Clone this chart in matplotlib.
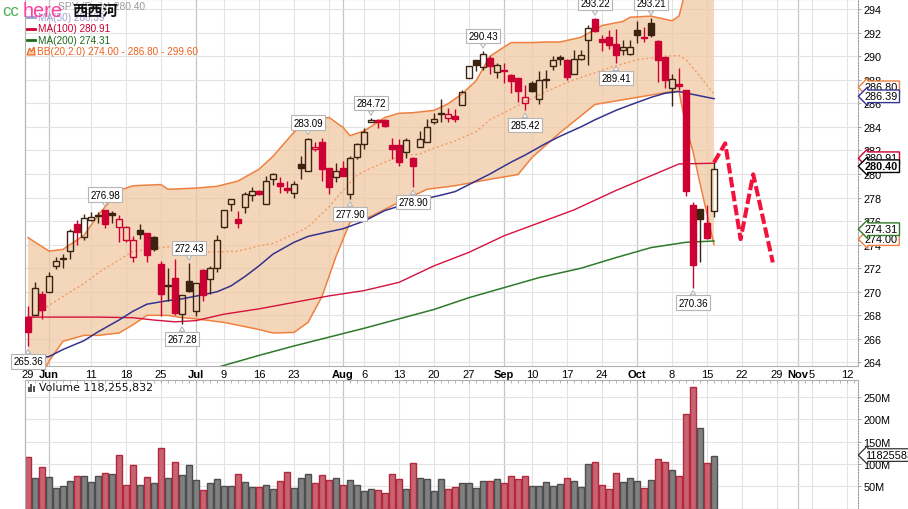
import numpy as np
import pandas as pd
import matplotlib
matplotlib.use("Agg")
import matplotlib.pyplot as plt
import matplotlib.transforms as mtransforms
from matplotlib.patches import Rectangle, Polygon
from matplotlib.lines import Line2D

W, H = 908, 510

# ------------------------------------------------------------------ data
holidays = ["2018-07-04", "2018-09-03"]
sessions = pd.bdate_range("2018-05-29", "2018-11-16")
sessions = sessions[~sessions.isin(pd.to_datetime(holidays))]

prev_close = 269.00
opens = [267.88, 268.05, 269.81, 270.00, 272.20, 272.85, 273.47, 275.74, 274.61, 276.10,
         276.55, 276.92, 276.70, 275.54, 274.41, 272.91, 275.22, 274.97, 274.61, 272.35,
         270.60, 271.13, 268.11, 270.93, 268.33, 271.84, 271.07, 272.06, 275.54, 277.43,
         276.16, 277.20, 278.19, 278.56, 277.43, 279.55, 279.27, 278.82, 278.42, 280.82,
         280.25, 282.15, 282.72, 280.48, 279.78, 280.54, 278.33, 281.47, 282.57, 284.43,
         284.57, 284.60, 282.43, 282.43, 281.87, 281.33, 282.32, 282.71, 284.40, 285.20,
         284.77, 284.91, 285.86, 288.16, 289.64, 289.12, 289.83, 288.69, 288.80, 288.40,
         288.12, 285.99, 287.70, 286.33, 288.00, 289.17, 289.89, 289.68, 288.46, 289.77,
         291.39, 293.17, 291.47, 291.59, 291.02, 290.53, 290.15, 292.21, 291.65, 292.81,
         291.30, 289.89, 287.27, 287.60, 287.13, 277.39, 276.99, 275.86, 276.85]
highs = [268.81, 270.80, 270.09, 271.64, 272.91, 273.17, 275.31, 276.10, 276.58, 276.78,
         276.78, 276.98, 276.86, 276.50, 275.60, 274.75, 275.74, 275.00, 274.75, 272.63,
         272.06, 272.77, 269.75, 272.43, 270.71, 271.92, 272.15, 274.81, 276.92, 277.91,
         276.86, 278.50, 278.90, 278.62, 279.83, 280.10, 279.70, 279.40, 279.40, 281.54,
         283.09, 282.70, 283.08, 280.50, 280.96, 281.10, 281.54, 282.66, 283.93, 284.72,
         284.70, 284.66, 283.02, 282.94, 283.05, 281.47, 283.65, 284.63, 285.20, 286.33,
         285.60, 285.50, 287.10, 289.20, 289.70, 290.43, 289.97, 289.40, 289.40, 288.45,
         288.12, 287.55, 287.89, 288.74, 288.83, 289.97, 290.06, 289.75, 290.53, 290.53,
         292.66, 293.22, 291.81, 292.24, 292.32, 291.39, 291.39, 293.00, 292.44, 293.21,
         291.35, 289.90, 288.46, 288.97, 287.13, 277.60, 277.00, 277.33, 281.00]
lows = [265.36, 268.05, 267.69, 270.00, 271.92, 272.06, 272.77, 273.96, 274.41, 276.01,
        275.82, 275.45, 275.80, 274.25, 274.19, 272.49, 274.47, 272.55, 273.47, 267.97,
        269.24, 268.05, 267.28, 269.95, 267.97, 269.24, 269.81, 271.64, 275.45, 276.86,
        275.42, 276.70, 277.71, 278.20, 277.43, 279.04, 278.42, 278.42, 278.00, 279.55,
        280.25, 281.95, 279.41, 278.33, 279.33, 279.80, 277.90, 281.30, 282.15, 284.43,
        283.93, 284.00, 281.24, 280.68, 281.36, 278.90, 282.32, 282.71, 284.20, 284.40,
        284.40, 284.40, 285.86, 288.16, 288.72, 288.83, 288.46, 288.12, 287.70, 286.84,
        286.08, 285.42, 286.99, 285.91, 287.27, 288.83, 289.26, 287.98, 288.46, 289.68,
        289.26, 292.05, 290.45, 290.62, 289.41, 290.11, 290.11, 291.08, 291.19, 291.59,
        287.84, 287.27, 285.80, 287.13, 278.13, 270.36, 272.51, 274.50, 276.34]
closes = [266.56, 270.29, 268.47, 271.30, 272.57, 272.80, 275.17, 275.08, 276.30, 276.35,
          276.45, 275.74, 276.50, 276.16, 275.54, 274.41, 274.94, 273.11, 273.62, 269.81,
          270.45, 268.20, 269.75, 270.09, 270.71, 269.72, 272.00, 274.38, 276.92, 277.91,
          275.82, 278.30, 278.56, 278.33, 279.41, 280.03, 278.99, 278.68, 279.18, 280.51,
          282.94, 282.32, 280.39, 278.93, 280.25, 279.83, 281.39, 282.57, 283.59, 284.60,
          284.45, 284.09, 282.15, 281.02, 282.86, 280.68, 283.00, 284.01, 284.63, 285.12,
          285.06, 284.69, 286.99, 289.14, 289.28, 290.20, 289.20, 289.25, 288.70, 287.89,
          287.04, 286.56, 287.04, 287.98, 288.10, 289.68, 289.72, 288.27, 289.77, 290.06,
          292.38, 292.10, 291.16, 290.96, 290.06, 290.74, 290.78, 291.81, 291.58, 291.81,
          289.68, 287.98, 288.04, 287.50, 278.52, 272.31, 276.14, 274.58, 280.40]
volume_m = [114.8, 67.7, 92.4, 70.0, 45.3, 49.8, 61.0, 72.2, 72.2, 58.7,
            72.2, 78.9, 76.7, 119.3, 52.0, 96.9, 52.0, 70.0, 56.5, 135.0,
            67.7, 103.6, 74.4, 96.9, 63.2, 40.8, 56.5, 65.5, 49.8, 49.8,
            76.7, 58.7, 47.5, 47.5, 52.0, 43.0, 61.0, 81.2, 45.3, 67.7,
            76.7, 56.5, 74.4, 63.2, 67.7, 52.0, 63.2, 52.0, 38.6, 43.0,
            40.8, 34.1, 76.7, 65.5, 43.0, 101.3, 67.7, 65.5, 38.6, 65.5,
            43.0, 47.5, 56.5, 56.5, 45.3, 61.0, 61.0, 65.5, 56.5, 72.2,
            65.5, 72.2, 49.8, 49.8, 58.7, 49.8, 54.2, 67.7, 61.0, 47.5,
            99.1, 103.6, 52.0, 43.0, 78.9, 58.7, 67.7, 61.0, 45.3, 63.2,
            110.3, 103.6, 85.6, 72.2, 211.2, 271.7, 179.8, 101.3, 118.26]

# overlay readings (session index, value)
ma50_idx = [0, 3, 5, 8, 10, 13, 15, 17, 20, 22, 25, 27, 29, 31, 33, 35, 38, 40, 43, 45, 48,
            51, 54, 56, 59, 61, 63, 66, 69, 71, 74, 76, 79, 81, 84, 86, 89, 91, 93, 95, 98]
ma50 = [264.3, 264.5, 265.1, 265.85, 266.6, 267.6, 268.35, 268.95, 269.25, 269.4, 269.75,
        270.0, 270.5, 271.3, 272.2, 273.2, 274.2, 274.7, 275.1, 275.35, 276.0, 276.9, 277.45,
        277.8, 278.2, 278.5, 279.1, 280.0, 281.0, 281.6, 282.6, 283.2, 284.0, 284.6, 285.4,
        285.85, 286.5, 286.85, 287.0, 286.75, 286.39]
ma100_idx = [0, 5, 10, 15, 18, 21, 24, 28, 33, 38, 43, 48, 53, 58, 63, 68, 73, 78, 84, 89, 93, 98]
ma100 = [267.85, 267.85, 267.85, 267.8, 267.6, 267.45, 267.55, 268.1, 268.55, 269.1, 269.65,
         270.1, 270.8, 272.2, 273.35, 274.75, 275.85, 276.95, 278.6, 279.85, 280.85, 280.91]
ma200_idx = [24, 28, 33, 38, 43, 48, 53, 58, 63, 68, 73, 79, 84, 89, 94, 98]
ma200 = [263.05, 263.75, 264.6, 265.4, 266.15, 266.9, 267.7, 268.5, 269.5, 270.35, 271.2,
         272.0, 272.9, 273.75, 274.2, 274.31]
bb_up_idx = [0, 3, 5, 8, 10, 13, 15, 19, 20, 24, 27, 30, 33, 35, 38, 40, 43, 45, 46, 48, 51, 53,
             55, 58, 60, 62, 64, 66, 69, 72, 74, 76, 79, 82, 85, 86, 89, 92, 93, 94, 95, 96, 97, 98]
bb_up = [274.6, 273.45, 273.6, 274.8, 276.5, 278.6, 279.0, 279.1, 278.7, 278.8, 278.95, 279.4,
         280.4, 281.5, 283.55, 284.45, 284.8, 283.95, 283.25, 283.65, 284.8, 285.15, 285.2,
         285.4, 285.95, 286.8, 287.9, 290.0, 291.15, 291.15, 291.2, 291.2, 291.6, 292.6, 292.95,
         293.3, 293.4, 293.0, 293.4, 295.7, 296.1, 297.4, 298.4, 299.6]
bb_mid_idx = [0, 3, 5, 8, 10, 13, 15, 17, 20, 22, 25, 28, 30, 33, 35, 38, 40, 43, 45, 47, 49,
              51, 53, 56, 58, 61, 64, 66, 69, 72, 74, 78, 83, 87, 91, 93, 94, 95, 96, 97, 98]
bb_mid = [267.55, 268.85, 269.6, 270.7, 271.6, 272.7, 273.45, 273.6, 273.8, 273.6, 273.35,
          273.4, 273.45, 273.9, 274.1, 274.9, 275.5, 277.2, 278.6, 279.9, 280.5, 281.0, 281.5,
          281.7, 282.2, 282.8, 283.6, 284.6, 285.5, 286.4, 287.0, 288.0, 289.0, 289.7, 290.0,
          290.05, 289.7, 289.0, 288.3, 287.5, 286.8]
bb_lo_idx = [0, 3, 5, 8, 10, 13, 15, 17, 20, 22, 24, 28, 33, 35, 38, 40, 42, 44, 46, 49, 52,
             57, 61, 66, 70, 72, 76, 81, 86, 89, 92, 93, 94, 95, 96, 97, 98]
bb_lo = [260.5, 264.1, 265.8, 266.3, 266.3, 266.5, 267.2, 268.0, 268.0, 267.8, 267.7, 267.4,
         266.8, 266.5, 266.55, 267.4, 269.6, 273.0, 275.9, 276.4, 277.3, 278.7, 279.0, 279.55,
         279.95, 281.4, 283.5, 285.9, 286.4, 286.7, 287.0, 287.0, 284.0, 281.9, 279.2, 276.6,
         274.0]

# hand-drawn forecast zigzag (session position, price)
proj_x = [98.0, 99.6, 101.8, 103.6, 106.4]
proj_y = [280.97, 282.60, 274.47, 279.97, 272.49]

# labelled extremes: (session index, price, above?)
tags = [(0, 265.36, False), (11, 276.98, True), (23, 272.43, True), (22, 267.28, False),
        (40, 283.09, True), (46, 277.90, False), (49, 284.72, True), (55, 278.90, False),
        (65, 290.43, True), (71, 285.42, False), (81, 293.22, True), (84, 289.41, False),
        (89, 293.21, True), (95, 270.36, False)]

tick_dates = ["2018-05-29", "2018-06-01", "2018-06-11", "2018-06-18", "2018-06-25",
              "2018-07-02", "2018-07-09", "2018-07-16", "2018-07-23", "2018-08-01",
              "2018-08-06", "2018-08-13", "2018-08-20", "2018-08-27", "2018-09-04",
              "2018-09-10", "2018-09-17", "2018-09-24", "2018-10-01", "2018-10-08",
              "2018-10-15", "2018-10-22", "2018-10-29", "2018-11-01", "2018-11-05",
              "2018-11-12"]
tick_labels = ["29", "Jun", "11", "18", "25", "Jul", "9", "16", "23", "Aug", "6", "13", "20",
               "27", "Sep", "10", "17", "24", "Oct", "8", "15", "22", "29", "Nov", "5", "12"]
month_dates = ["2018-06-01", "2018-07-02", "2018-08-01", "2018-09-04", "2018-10-01", "2018-11-01"]
week_dates = ["2018-06-11", "2018-06-18", "2018-06-25", "2018-07-09", "2018-07-16",
              "2018-07-23", "2018-07-30", "2018-08-06", "2018-08-13", "2018-08-20",
              "2018-08-27", "2018-09-10", "2018-09-17", "2018-09-24", "2018-10-08",
              "2018-10-15", "2018-10-22", "2018-10-29", "2018-11-05", "2018-11-12"]

# ------------------------------------------------------------------ styling
LS = ["Liberation Sans", "DejaVu Sans"]
NARROW = ["Liberation Sans Narrow", "Liberation Sans", "DejaVu Sans"]
CJK = ["Noto Sans CJK SC", "DejaVu Sans"]
RED = "#CC0033"
DARK = "#3C2210"
GRID = "#E3E3E3"
MGRID = "#C6C6C6"
BB_LINE = "#F08040"
BB_FILL = "#F0C8A0"


def pos(d):
    return sessions.get_loc(pd.Timestamp(d))


def fx(x):
    return x / W


def fy(y):
    return 1 - y / H


fig = plt.figure(figsize=(W / 100, H / 100), dpi=100)
fig.patch.set_facecolor("white")
ax = fig.add_axes([fx(25), fy(367), fx(858) - fx(25), fy(0) - fy(367)])
axv = fig.add_axes([fx(25), 0, fx(858) - fx(25), fy(381)])

XL = (-0.43, 118.57)
for a in (ax, axv):
    a.set_xlim(*XL)
    for d in week_dates:
        a.axvline(pos(d), color=GRID, lw=0.8, zorder=0)
    for d in month_dates:
        a.axvline(pos(d), color=MGRID, lw=0.9, zorder=0)
    for s in a.spines.values():
        s.set_color("#B0B0B0")
        s.set_linewidth(0.8)
    a.spines["right"].set_linestyle((0, (1, 1.5)))
    a.spines["right"].set_color("#999999")

# ---- main price panel
ax.set_ylim(263.70, 294.85)
for v in range(264, 295, 2):
    ax.axhline(v, color=GRID, lw=0.8, zorder=0)

# Bollinger band fill + lines
poly_x = list(bb_up_idx) + list(bb_lo_idx[::-1])
poly_y = list(bb_up) + list(bb_lo[::-1])
ax.fill(poly_x, poly_y, color=BB_FILL, alpha=0.72, lw=0, zorder=1)
ax.plot(bb_up_idx, bb_up, color=BB_LINE, lw=1.1, zorder=2)
ax.plot(bb_lo_idx, bb_lo, color=BB_LINE, lw=1.1, zorder=2)
ax.plot(bb_mid_idx, bb_mid, color="#F39A66", lw=1.0, ls=(0, (1.5, 1.8)), zorder=2)

ax.plot(ma200_idx, ma200, color="#2F7A2A", lw=1.1, zorder=2)
ax.plot(ma100_idx, ma100, color="#D5123E", lw=1.0, zorder=2)
ax.plot(ma50_idx, ma50, color="#34338E", lw=1.1, zorder=2)

# candles
prev = [prev_close] + closes[:-1]
bw = 0.74
for i, (o, h, l, c, p) in enumerate(zip(opens, highs, lows, closes, prev)):
    col = RED if c < p else DARK
    top, bot = max(o, c), min(o, c)
    ax.plot([i, i], [top, h], color=col, lw=1.0, zorder=3, solid_capstyle="butt")
    ax.plot([i, i], [l, bot], color=col, lw=1.0, zorder=3, solid_capstyle="butt")
    filled = c < o
    ax.add_patch(Rectangle((i - bw / 2, bot), bw, max(top - bot, 0.04),
                           facecolor=col if filled else "none", edgecolor=col,
                           lw=1.0, zorder=3.5))

# forecast zigzag
ax.plot(proj_x, proj_y, color="#F2123C", lw=2.9, ls=(0, (2.6, 0.9)), zorder=4,
        solid_capstyle="butt", dash_capstyle="butt")

# extreme tags
for i, v, above in tags:
    off = 7.2 if above else -7.2
    ax.annotate(f"{v:.2f}", xy=(i, v), xytext=(0, off), textcoords="offset points",
                ha="center", va="bottom" if above else "top", fontsize=7, family=LS,
                zorder=6, annotation_clip=False,
                bbox=dict(boxstyle="square,pad=0.22", fc="white", ec="#B5B5B5", lw=0.8),
                arrowprops=dict(arrowstyle="wedge,tail_width=0.55,shrink_factor=0.5",
                                fc="white", ec="#B5B5B5", lw=0.8, shrinkA=0, shrinkB=2.2))

# axes ticks
ax.yaxis.tick_right()
ax.set_yticks(range(264, 295, 2))
ax.set_yticklabels([str(v) for v in range(264, 295, 2)], family=LS, fontsize=7.8)
ax.tick_params(axis="y", length=2.5, width=0.6, color="#999999", pad=1.5)
tick_pos = [pos(d) for d in tick_dates]
ax.set_xticks(tick_pos)
ax.set_xticklabels(tick_labels, family=NARROW, fontsize=8)
for lab, txt in zip(ax.get_xticklabels(), tick_labels):
    if not txt.isdigit():
        lab.set_fontweight("bold")
ax.tick_params(axis="x", length=0, pad=2.2)

# right-hand value boxes
trans = mtransforms.blended_transform_factory(ax.transAxes, ax.transData)
rtags = [(286.80, BB_LINE, 4.7, False), (286.39, "#34338E", 1.7, False),
         (280.91, RED, 3.6, False), (280.40, "black", 2.2, True),
         (274.00, BB_LINE, 4.0, False), (274.31, "#2F7A2A", 8.5, False)]
for v, col, dy, bold in rtags:
    ax.annotate(f"{v:.2f}", xy=(1.0, v), xycoords=trans, xytext=(5.0, dy),
                textcoords="offset points", ha="left", va="center", fontsize=7.8,
                family=LS, fontweight="bold" if bold else "normal", color="black",
                annotation_clip=False, zorder=10,
                bbox=dict(boxstyle="larrow,pad=0.12", fc="white", ec=col, lw=1.0))

# ---- volume panel
YV = (-1.1, 288.1)
axv.set_ylim(*YV)
for v in range(50, 251, 50):
    axv.axhline(v, color=GRID, lw=0.8, zorder=0)
for i, (vol, c, p) in enumerate(zip(volume_m, closes, prev)):
    down = c < p
    axv.bar(i, vol, width=0.98, color="#C86472" if down else "#808080",
            edgecolor="#B4283E" if down else "#4E4E4E", lw=1.0, zorder=2)
axv.yaxis.tick_right()
axv.set_yticks(range(50, 251, 50))
axv.set_yticklabels([f"{v}M" for v in range(50, 251, 50)], family=LS, fontsize=7.8)
axv.tick_params(axis="y", length=2.5, width=0.6, color="#999999", pad=1.5)
axv.set_xticks([])
axv.set_xticks(range(0, 119), minor=True)
axv.tick_params(axis="x", which="minor", top=True, bottom=False, direction="in",
                length=2.5, width=0.6, color="#A8A8A8", labelbottom=False)
tv = mtransforms.blended_transform_factory(axv.transAxes, axv.transData)
axv.annotate(f"{int(round(volume_m[-1] * 1e6 + 0)):d}".replace("118260000", "118255832"),
             xy=(1.0, volume_m[-1]), xycoords=tv, xytext=(5.0, 0.5), textcoords="offset points",
             ha="left", va="center", fontsize=7.8, family=LS, annotation_clip=False, zorder=10,
             bbox=dict(boxstyle="larrow,pad=0.12", fc="white", ec="#333333", lw=0.9))

# volume legend
for k, hh in enumerate([5, 8, 6]):
    fig.add_artist(Rectangle((fx(27.5 + k * 2.6), fy(393)), fx(2.0), hh / H,
                             color="#555555", lw=0))
fig.text(fx(39), fy(388.5), "Volume 118,255,832", family=["DejaVu Sans"], fontsize=7.9,
         va="center", ha="left", color="#111111")

# ---- price legend
fig.text(fx(145), fy(7), "SPY (Daily) 280.40", ha="right", va="center", fontsize=7.4,
         color="#9A9A9A", family=LS)
legend_rows = [(18.3, "#9C9CCF", "MA(50) 286.39"), (29.5, RED, "MA(100) 280.91"),
               (41.0, "#1E6B1E", "MA(200) 274.31")]
for yy, col, txt in legend_rows:
    fig.add_artist(Line2D([fx(27), fx(35)], [fy(yy), fy(yy)], color=col, lw=2.0))
    fig.text(fx(37.5), fy(yy), txt, va="center", ha="left", fontsize=7.2, color=col, family=LS)
fig.add_artist(Polygon([(fx(27), fy(56)), (fx(29.5), fy(49)), (fx(31.5), fy(52.5)),
                        (fx(34), fy(48)), (fx(35), fy(56))], closed=True,
                       fc="#F6C8A0", ec="#F06020", lw=0.8))
fig.text(fx(37), fy(52.2), "BB(20,2.0) 274.00 - 286.80 - 299.60", va="center", ha="left",
         fontsize=7.2, color="#F0601E", family=LS)

# overlay watermark text
fig.text(fx(2), fy(16.5), "cc", fontsize=12, color="#4CAF50", family=LS, va="baseline")
fig.text(fx(22.5), fy(17), "here", fontsize=14.4, color="#FF40A0", family=LS, va="baseline")
fig.text(fx(72), fy(15.5), "西西河", fontsize=11, fontweight="bold", family=CJK,
         va="baseline", color="#111111")

fig.savefig("out.png", dpi=100, facecolor="white")
